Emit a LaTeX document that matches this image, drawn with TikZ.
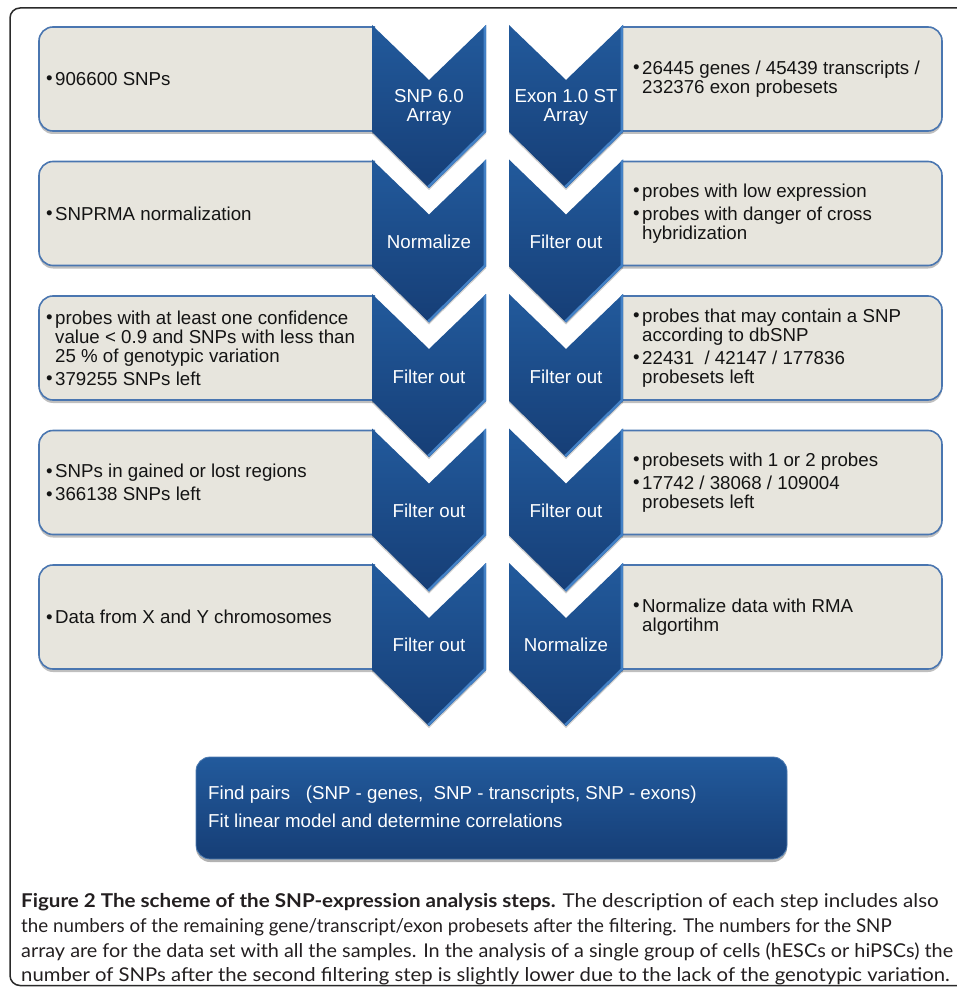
\documentclass[tikz,border=0pt]{standalone}
\usepackage{fontspec}
\usepackage{graphicx}
\setmainfont{Liberation Sans}
\newfontfamily\capfont{Lato}
\usetikzlibrary{shadows}
\definecolor{boxfillc}{HTML}{E7E5DD}
\definecolor{boxlinec}{HTML}{4A76B0}
\definecolor{chevtop}{HTML}{225A9C}
\definecolor{chevbot}{HTML}{163E76}
\definecolor{bevelc}{HTML}{4381C6}
\definecolor{framec}{HTML}{2A2A2A}
\definecolor{captext}{HTML}{231F20}

\newcommand\LBox[1]{%
 \path[boxfill] (375,#1+2) -- (53,#1+2) .. controls (45.3,#1+2) and (39,#1+8.3) .. (39,#1+16) -- (39,#1+92) .. controls (39,#1+99.7) and (45.3,#1+106) .. (53,#1+106) -- (375,#1+106) -- cycle;
 \draw[boxline] (375,#1+2) -- (53,#1+2) .. controls (45.3,#1+2) and (39,#1+8.3) .. (39,#1+16) -- (39,#1+92) .. controls (39,#1+99.7) and (45.3,#1+106) .. (53,#1+106) -- (375,#1+106);
}
\newcommand\RBox[1]{%
 \path[boxfill] (621,#1+2) -- (928,#1+2) .. controls (935.7,#1+2) and (942,#1+8.3) .. (942,#1+16) -- (942,#1+92) .. controls (942,#1+99.7) and (935.7,#1+106) .. (928,#1+106) -- (621,#1+106) -- cycle;
 \draw[boxline] (621,#1+2) -- (928,#1+2) .. controls (935.7,#1+2) and (942,#1+8.3) .. (942,#1+16) -- (942,#1+92) .. controls (942,#1+99.7) and (935.7,#1+106) .. (928,#1+106) -- (621,#1+106);
}
\newcommand\Chev[2]{%
 \path[chev] (#1,#2) -- (#1+57,#2+55) -- (#1+114,#2) -- (#1+114,#2+107) -- (#1+57,#2+163) -- (#1,#2+107) -- cycle;
 \begin{scope}
  \clip (#1,#2) -- (#1+57,#2+55) -- (#1+114,#2) -- (#1+114,#2+107) -- (#1+57,#2+163) -- (#1,#2+107) -- cycle;
  \draw[bevel] (#1+114,#2) -- (#1+114,#2+107) -- (#1+57,#2+163);
 \end{scope}
}
\newcommand\bul{\makebox[9pt][l]{\raisebox{0.5pt}{\textbullet}}}
\newcommand\ind{\hspace*{9pt}}

\begin{document}
\begin{tikzpicture}[x=1pt,y=-1pt,
  boxfill/.style={fill=boxfillc, drop shadow={shadow xshift=0pt,shadow yshift=-3pt,opacity=0.25,fill=black}},
  boxline/.style={draw=boxlinec, line width=1.6pt},
  chev/.style={top color=chevtop, bottom color=chevbot, drop shadow={shadow xshift=0pt,shadow yshift=-2pt,opacity=0.2,fill=black}},
  bevel/.style={draw=bevelc, line width=5pt},
  boxtext/.style={inner sep=0pt, anchor=west, align=left, text=black!92, font=\fontsize{18.7}{19}\selectfont},
  chevtext/.style={inner sep=0pt, align=center, text=white, font=\fontsize{18.7}{19}\selectfont},
  captionline/.style={inner sep=0pt, anchor=base west, text=captext, font=\capfont\fontsize{19}{22}\selectfont},
  framestyle/.style={draw=framec, line width=1.5pt},
  bigbox/.style={rounded corners=14pt, top color=chevtop, bottom color=chevbot, draw=chevtop!80!white, line width=0.8pt, drop shadow={shadow xshift=0pt,shadow yshift=-3pt,opacity=0.3,fill=black}}
]
\useasboundingbox (0,0) rectangle (957,987);
\clip (0,0) rectangle (957,987);
\draw[framestyle, rounded corners=10pt] (10,8) rectangle (1000,985.5);

% boxes
\LBox{25}\LBox{159.5}\LBox{294}\LBox{428.5}\LBox{563}
\RBox{25}\RBox{159.5}\RBox{294}\RBox{428.5}\RBox{563}

% chevrons
\Chev{372}{25}\Chev{372}{159.5}\Chev{372}{294}\Chev{372}{428.5}\Chev{372}{563}
\Chev{509}{25}\Chev{509}{159.5}\Chev{509}{294}\Chev{509}{428.5}\Chev{509}{563}

% chevron labels
\node[chevtext] (cl1) at (429,107) {SNP 6.0\\Array};
\node[chevtext] (cl2) at (429,242) {Normalize};
\node[chevtext] (cl3) at (429,377) {Filter out};
\node[chevtext] (cl4) at (429,511) {Filter out};
\node[chevtext] (cl5) at (429,645) {Filter out};
\node[chevtext] (cr1) at (566,107) {Exon 1.0 ST\\Array};
\node[chevtext] (cr2) at (566,242) {Filter out};
\node[chevtext] (cr3) at (566,377) {Filter out};
\node[chevtext] (cr4) at (566,511) {Filter out};
\node[chevtext] (cr5) at (566,645) {Normalize};

% left texts
\node[boxtext] (l1) at (46,79) {\bul906600 SNPs};
\node[boxtext] (l2) at (46,213.5) {\bul SNPRMA normalization};
\node[boxtext] (l3) at (46,348) {\bul probes with at least one confidence\\\ind value < 0.9 and SNPs with less than\\\ind 25 \% of genotypic variation\\[4pt]\bul379255 SNPs left};
\node[boxtext] (l4) at (46,482.5) {\bul SNPs in gained or lost regions\\[4pt]\bul366138 SNPs left};
\node[boxtext] (l5) at (46,617) {\bul Data from X and Y chromosomes};

% right texts
\node[boxtext] (r1) at (633,79) {\bul26445 genes / 45439 transcripts /\\\ind 232376 exon probesets};
\node[boxtext] (r2) at (633,213.5) {\bul probes with low expression\\[4pt]\bul probes with danger of cross\\\ind hybridization};
\node[boxtext] (r3) at (633,348) {\bul probes that may contain a SNP\\\ind according to dbSNP\\[4pt]\bul22431\ \ / 42147 / 177836\\\ind probesets left};
\node[boxtext] (r4) at (633,482.5) {\bul probesets with 1 or 2 probes\\[4pt]\bul17742 / 38068 / 109004\\\ind probesets left};
\node[boxtext] (r5) at (633,617) {\bul Normalize data with RMA\\\ind algortihm};

% bottom box
\path[bigbox] (196,757) rectangle (787,859);
\node[inner sep=0pt, anchor=west, align=left, text=white, font=\fontsize{18.7}{28}\selectfont] (fp) at (208,807) {Find pairs\ \ \ (SNP - genes,\ \ SNP - transcripts, SNP - exons)\\Fit linear model and determine correlations};

% caption
\node[captionline] (c1) at (21,907) {\scalebox{1.084}[1]{\textbf{Figure 2 The scheme of the SNP-expression analysis steps.} The description of each step includes also}};
\node[captionline] (c2) at (21,932) {\scalebox{0.987}[1]{the numbers of the remaining gene/transcript/exon probesets after the filtering. The numbers for the SNP}};
\node[captionline] (c3) at (21,957) {\scalebox{1.044}[1]{array are for the data set with all the samples. In the analysis of a single group of cells (hESCs or hiPSCs) the}};
\node[captionline] (c4) at (21,981.5) {\scalebox{1.067}[1]{number of SNPs after the second filtering step is slightly lower due to the lack of the genotypic variation.}};
\end{tikzpicture}
\end{document}
